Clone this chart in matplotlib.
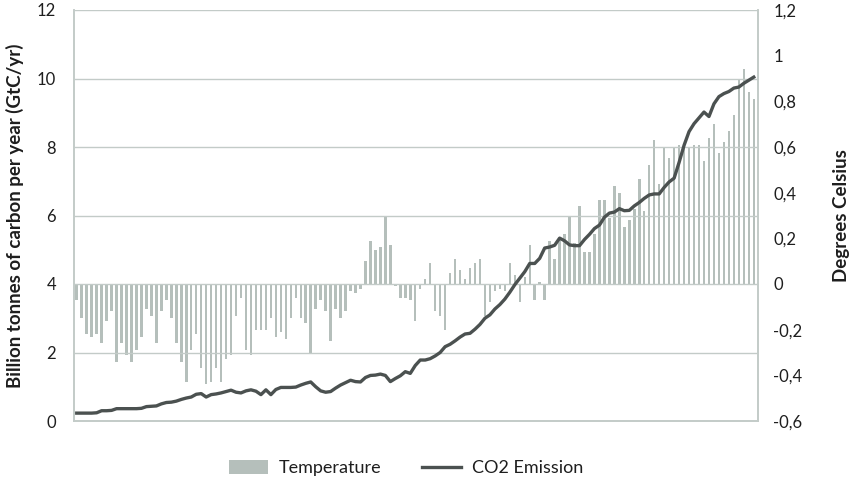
import matplotlib
matplotlib.use("Agg")
import matplotlib.pyplot as plt
from matplotlib.ticker import FuncFormatter
from matplotlib.patches import Patch
from matplotlib.lines import Line2D

plt.rcParams['font.family'] = ['Lato', 'DejaVu Sans']

# one bar / one point per year
years = list(range(1880, 2017))

# temperature anomaly, degrees Celsius (right axis)
temp = [-0.07, -0.15, -0.22, -0.23, -0.22, -0.26, -0.16, -0.12, -0.34, -0.26,
        -0.31, -0.34, -0.29, -0.23, -0.11, -0.14, -0.26, -0.12, -0.07, -0.15,
        -0.26, -0.34, -0.43, -0.29, -0.22, -0.37, -0.44, -0.43, -0.37, -0.43,
        -0.33, -0.31, -0.14, -0.06, -0.29, -0.31, -0.20, -0.20, -0.20, -0.15,
        -0.23, -0.21, -0.24, -0.15, -0.06, -0.15, -0.17, -0.30, -0.11, -0.07,
        -0.12, -0.25, -0.11, -0.15, -0.12, -0.03, -0.04, -0.02, 0.10, 0.19,
        0.15, 0.16, 0.30, 0.17, -0.01, -0.06, -0.06, -0.07, -0.16, -0.02,
        0.02, 0.09, -0.12, -0.14, -0.20, 0.05, 0.11, 0.06, 0.02, 0.07,
        0.09, 0.11, -0.14, -0.08, -0.03, -0.02, -0.03, 0.09, 0.04, -0.08,
        0.03, 0.17, -0.07, 0.01, -0.07, 0.19, 0.11, 0.20, 0.22, 0.30,
        0.18, 0.34, 0.14, 0.14, 0.22, 0.37, 0.37, 0.29, 0.43, 0.40,
        0.25, 0.28, 0.33, 0.46, 0.32, 0.52, 0.63, 0.44, 0.60, 0.55,
        0.60, 0.61, 0.60, 0.60, 0.61, 0.61, 0.54, 0.64, 0.70, 0.575,
        0.62, 0.67, 0.74, 0.90, 0.94, 0.84, 0.81]

# CO2 emission, GtC/yr (left axis)
co2 = [0.23, 0.23, 0.23, 0.23, 0.24, 0.30, 0.30, 0.31, 0.36, 0.36,
       0.36, 0.36, 0.36, 0.37, 0.42, 0.43, 0.44, 0.50, 0.54, 0.55,
       0.58, 0.63, 0.67, 0.70, 0.78, 0.80, 0.70, 0.77, 0.79, 0.82,
       0.86, 0.90, 0.84, 0.82, 0.88, 0.91, 0.87, 0.77, 0.91, 0.77,
       0.92, 0.98, 0.98, 0.98, 0.99, 1.05, 1.10, 1.14, 1.00, 0.88,
       0.84, 0.86, 0.96, 1.05, 1.12, 1.19, 1.15, 1.14, 1.27, 1.33,
       1.34, 1.37, 1.33, 1.15, 1.24, 1.32, 1.44, 1.39, 1.62, 1.78,
       1.78, 1.82, 1.90, 2.00, 2.17, 2.24, 2.34, 2.45, 2.54, 2.56,
       2.68, 2.82, 3.00, 3.10, 3.27, 3.40, 3.56, 3.76, 3.98, 4.17,
       4.36, 4.60, 4.60, 4.75, 5.05, 5.08, 5.13, 5.34, 5.26, 5.14,
       5.12, 5.12, 5.30, 5.45, 5.62, 5.72, 5.95, 6.07, 6.10, 6.20,
       6.14, 6.15, 6.28, 6.38, 6.50, 6.60, 6.63, 6.63, 6.82, 6.98,
       7.09, 7.55, 8.05, 8.45, 8.68, 8.85, 9.02, 8.89, 9.26, 9.47,
       9.56, 9.62, 9.72, 9.75, 9.86, 9.95, 10.04]

left_ticks = [0, 2, 4, 6, 8, 10, 12]
right_ticks = [-0.6, -0.4, -0.2, 0, 0.2, 0.4, 0.6, 0.8, 1.0, 1.2]

bar_col = '#b5bfbb'
grid_col = '#c3cbc8'
line_col = '#4b5150'
txt_col = '#1e1e1e'

fig = plt.figure(figsize=(8.5, 4.8), dpi=100)
ax = fig.add_axes([74/850, 59/480, 684/850, 411/480])
ax2 = ax.twinx()
ax.set_zorder(ax2.get_zorder() + 1)
ax.patch.set_visible(False)

# bars on the temperature scale
ax2.bar(years, temp, width=0.5, color=bar_col, linewidth=0)
ax2.set_ylim(-0.6, 1.2)
ax2.set_yticks(right_ticks)

def comma(v, pos):
    v = round(v, 1)
    if v == 0:
        return '0'
    return ('%g' % v).replace('.', ',')

ax2.yaxis.set_major_formatter(FuncFormatter(comma))

# line on the emission scale
ax.plot(years, co2, color=line_col, lw=2.4, solid_joinstyle='round')
ax.set_ylim(0, 12)
ax.set_yticks(left_ticks)
ax.set_xlim(years[0] - 0.55, years[-1] + 0.85)
ax.set_xticks([])
ax.grid(axis='y', color=grid_col, lw=1)

for a in (ax, ax2):
    a.spines['top'].set_visible(False)
    for s in ('left', 'right', 'bottom'):
        a.spines[s].set_color(grid_col)
        a.spines[s].set_linewidth(1.2)
    a.tick_params(axis='y', length=0, labelsize=12, colors=txt_col)
ax.tick_params(axis='y', pad=13)
ax2.tick_params(axis='y', pad=11)

ax.set_ylabel('Billion tonnes of carbon per year (GtC/yr)', fontsize=13.5,
              fontweight='bold', color=txt_col, labelpad=9)
ax2.set_ylabel('Degrees Celsius', fontsize=13.5, fontweight='bold',
               color=txt_col, rotation=90, labelpad=22)

handles = [Patch(facecolor=bar_col, edgecolor='none', label='Temperature'),
           Line2D([0], [0], color=line_col, lw=2.4, label='CO2 Emission')]
fig.legend(handles=handles, loc='center', bbox_to_anchor=(406/850, 12/480),
           ncol=2, frameon=False, fontsize=13, handlelength=2.2,
           handleheight=0.8, handletextpad=0.6, columnspacing=2.2,
           labelcolor=txt_col)

fig.savefig('out.png', dpi=100)
